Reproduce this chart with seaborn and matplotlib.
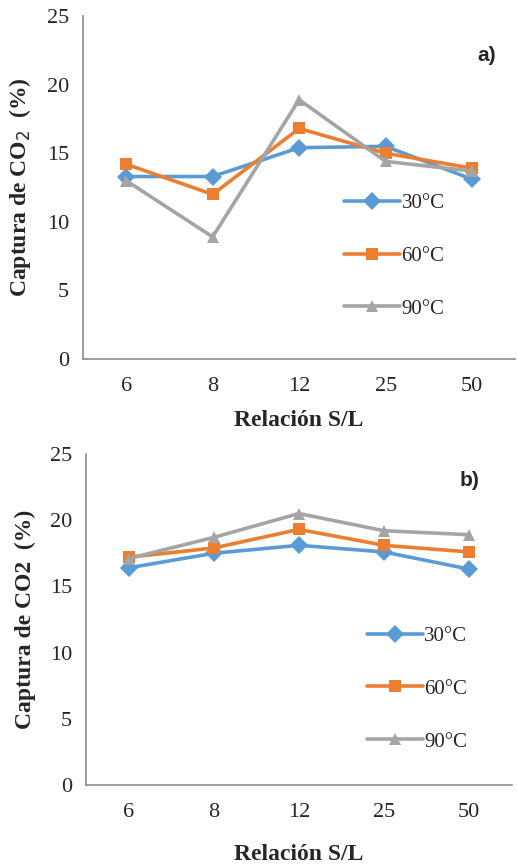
import pandas as pd
import matplotlib
matplotlib.use("Agg")
import matplotlib.pyplot as plt
import seaborn as sns

# Datos
relacion = ["6", "8", "12", "25", "50"]
temperaturas = ["30°C", "60°C", "90°C"]
captura_a = {
    "30°C": [13.3, 13.3, 15.4, 15.5, 13.1],
    "60°C": [14.2, 12.0, 16.8, 15.0, 13.9],
    "90°C": [13.0, 8.9, 18.9, 14.4, 13.7],
}
captura_b = {
    "30°C": [16.4, 17.5, 18.1, 17.6, 16.3],
    "60°C": [17.2, 17.9, 19.3, 18.1, 17.6],
    "90°C": [17.1, 18.7, 20.5, 19.2, 18.9],
}
colores = {"30°C": "#5B9BD5", "60°C": "#ED7D31", "90°C": "#A5A5A5"}
marcadores = {"30°C": "D", "60°C": "s", "90°C": "^"}

sns.set_style("white")
plt.rcParams["font.family"] = ["Liberation Serif", "DejaVu Serif"]


def a_tabla(captura):
    filas = []
    for t in temperaturas:
        for r, v in zip(relacion, captura[t]):
            filas.append({"Relacion": r, "Temperatura": t, "Captura": v})
    return pd.DataFrame(filas)


def dibujar(ax, captura, ylabel, letra, letra_pos, legend_pos, xpad):
    df = a_tabla(captura)
    sns.lineplot(data=df, x="Relacion", y="Captura", hue="Temperatura",
                 style="Temperatura", palette=colores, markers=marcadores,
                 dashes=False, linewidth=2.6, markersize=9,
                 markeredgewidth=0, ax=ax, sort=False)
    ax.set_xlim(-0.5, 4.5)
    ax.set_ylim(0, 25)
    ax.set_yticks([0, 5, 10, 15, 20, 25])
    ax.set_xticks(range(len(relacion)))
    ax.set_xticklabels(relacion)
    ax.set_xticks([i - 0.5 for i in range(len(relacion) + 1)], minor=True)
    ax.tick_params(axis="x", which="major", length=0, pad=13, labelsize=16)
    ax.tick_params(axis="x", which="minor", length=6, color="#8C8C8C",
                   direction="out", width=1)
    ax.tick_params(axis="y", length=6, color="#8C8C8C", direction="out",
                   width=1, labelsize=16, pad=4)
    sns.despine(ax=ax)
    for s in ["left", "bottom"]:
        ax.spines[s].set_color("#8C8C8C")
        ax.spines[s].set_linewidth(1.2)
    ax.set_xlabel("Relación S/L", fontsize=17, fontweight="bold", labelpad=xpad)
    ax.set_ylabel(ylabel, fontsize=17, fontweight="bold", labelpad=10)
    ax.text(letra_pos[0], letra_pos[1], letra, transform=ax.transAxes,
            ha="right", va="center", fontsize=15, fontweight="bold",
            family="Liberation Sans")
    ax.legend(loc="center left", bbox_to_anchor=legend_pos, frameon=False,
              fontsize=15, labelspacing=1.6, handlelength=2.7,
              handletextpad=0.05, borderaxespad=0)


fig = plt.figure(figsize=(5.18, 8.65), dpi=100)
ax1 = fig.add_axes([0.160, 0.585, 0.835, 0.3965])
ax2 = fig.add_axes([0.166, 0.0925, 0.822, 0.3827])

dibujar(ax1, captura_a, "Captura de CO$_2$  (%)", "a)", (0.955, 0.885),
        (0.585, 0.30), 10)
dibujar(ax2, captura_b, "Captura de CO2  (%)", "b)", (0.925, 0.92),
        (0.64, 0.29), 16)

fig.savefig("out.png", dpi=100)
plt.close()
